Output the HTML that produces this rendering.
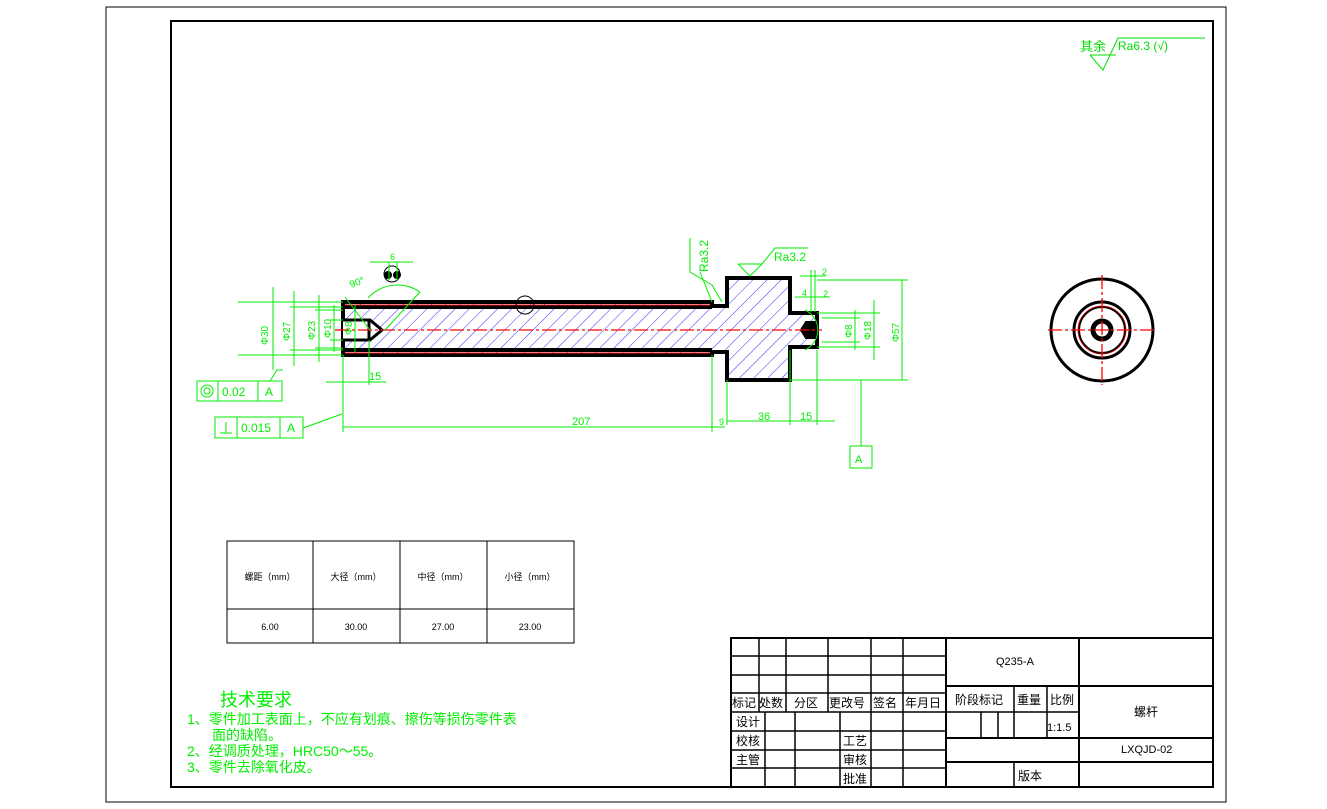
<!DOCTYPE html>
<html><head><meta charset="utf-8"><style>
html,body{margin:0;padding:0;background:#fff;}
svg{display:block;}
text{font-family:"Liberation Sans","Noto Sans CJK SC",sans-serif;}
</style></head><body>
<svg width="1327" height="809" viewBox="0 0 1327 809" xmlns="http://www.w3.org/2000/svg">
<defs>
<pattern id="h" width="10" height="10" patternUnits="userSpaceOnUse" patternTransform="rotate(45)">
<line x1="0" y1="0" x2="0" y2="10" stroke="#0000ff" stroke-width="0.8"/>
</pattern>
</defs>
<rect x="106" y="7" width="1120" height="795" fill="none" stroke="#000" stroke-width="1"/>
<rect x="171" y="21" width="1042" height="766" fill="none" stroke="#000" stroke-width="2"/>

<g fill="#00dd00" stroke="#00dd00">
<text x="1080" y="51" font-size="13" stroke="none">其余</text>
<polyline points="1090,55 1103,70 1118,38 1205,38" fill="none" stroke-width="1"/>
<line x1="1090" y1="55" x2="1116" y2="55" stroke-width="1"/>
<text x="1118" y="50" font-size="12" stroke="none" font-family="Liberation Mono">Ra6.3  (√)</text>
</g>

<path d="M343,302 L712,302 L712,306 L727,306 L727,278 L790,278 L790,313 L817,313 L817,347 L790,347 L790,380 L727,380 L727,352 L712,352 L712,355 L343,355 Z" fill="url(#h)" stroke="#000" stroke-width="4"/>
<line x1="343" y1="307" x2="712" y2="307" stroke="#000" stroke-width="4"/>
<line x1="343" y1="350" x2="712" y2="350" stroke="#000" stroke-width="4"/>
<line x1="345" y1="305" x2="710" y2="305" stroke="#ff0000" stroke-width="1"/>
<line x1="345" y1="353" x2="710" y2="353" stroke="#ff0000" stroke-width="1"/>
<path d="M343,320 L370,320 L382,330 L370,340 L343,340" fill="#fff" stroke="#000" stroke-width="3"/>
<line x1="369" y1="320" x2="369" y2="340" stroke="#000" stroke-width="3"/>
<path d="M817,322 L806,322 L801,330 L806,338 L817,338" fill="#000" stroke="#000" stroke-width="2"/>
<line x1="335" y1="330" x2="822" y2="330" stroke="#ff0000" stroke-width="1.2" stroke-dasharray="14,3,3,3"/>
<circle cx="525" cy="305" r="9" fill="none" stroke="#000" stroke-width="1"/>
<circle cx="392" cy="274" r="8" fill="none" stroke="#000" stroke-width="1"/>
<circle cx="388" cy="275" r="4" fill="#000"/><circle cx="397" cy="275" r="4" fill="#000"/>

<g stroke="#00ee00" stroke-width="1" fill="none">
<line x1="238" y1="302" x2="343" y2="302"/><line x1="238" y1="355" x2="343" y2="355"/>
<line x1="273" y1="287" x2="273" y2="370"/>
<line x1="294" y1="291" x2="294" y2="366"/><line x1="290" y1="307" x2="343" y2="307"/><line x1="290" y1="350" x2="343" y2="350"/>
<line x1="319" y1="295" x2="319" y2="362"/><line x1="315" y1="310" x2="343" y2="310"/><line x1="315" y1="348" x2="343" y2="348"/>
<line x1="334" y1="305" x2="334" y2="352"/><line x1="330" y1="320" x2="343" y2="320"/><line x1="330" y1="340" x2="343" y2="340"/>
<line x1="355" y1="305" x2="355" y2="352"/>
<line x1="369" y1="340" x2="369" y2="385"/>
<line x1="326" y1="382" x2="386" y2="382"/>
<line x1="343" y1="355" x2="343" y2="432"/>
<line x1="343" y1="427" x2="725" y2="427"/>
<line x1="712" y1="355" x2="712" y2="432"/>
<line x1="727" y1="380" x2="727" y2="425"/>
<line x1="727" y1="421" x2="835" y2="421"/>
<line x1="790" y1="350" x2="790" y2="425"/>
<line x1="817" y1="350" x2="817" y2="425"/>
<line x1="817" y1="280" x2="908" y2="280"/><line x1="790" y1="380" x2="908" y2="380"/>
<line x1="902" y1="280" x2="902" y2="380"/>
<line x1="817" y1="313" x2="880" y2="313"/><line x1="817" y1="347" x2="880" y2="347"/>
<line x1="874" y1="300" x2="874" y2="360"/>
<line x1="822" y1="318" x2="860" y2="318"/><line x1="822" y1="342" x2="860" y2="342"/>
<line x1="855" y1="310" x2="855" y2="350"/>
<line x1="800" y1="276" x2="826" y2="276"/><line x1="811" y1="270" x2="811" y2="312"/><line x1="815" y1="270" x2="815" y2="312"/>
<line x1="795" y1="297" x2="830" y2="297"/>
<line x1="861" y1="380" x2="861" y2="446"/>
<rect x="850" y="446" width="22" height="22"/>
<path d="M805,310 A22,22 0 0 1 805,350"/>
<path d="M368,298 A40,40 0 0 1 420,292"/>
<line x1="345" y1="297" x2="370" y2="330"/><line x1="420" y1="292" x2="385" y2="330"/>
<line x1="370" y1="262" x2="413" y2="262"/><line x1="389" y1="262" x2="389" y2="280"/><line x1="397" y1="262" x2="397" y2="280"/>
<polyline points="690,238 690,272 712,285 722,302"/><line x1="700" y1="272" x2="712" y2="302"/>
<polyline points="738,264 750,276 762,264 775,248 808,248"/><line x1="738" y1="264" x2="762" y2="264"/>
<rect x="197" y="381" width="85" height="20"/><line x1="218" y1="381" x2="218" y2="401"/><line x1="258" y1="381" x2="258" y2="401"/>
<circle cx="207" cy="391" r="6"/><circle cx="207" cy="391" r="3"/>
<polyline points="270,381 277,370 283,370"/>
<rect x="215" y="417" width="88" height="21"/><line x1="237" y1="417" x2="237" y2="438"/><line x1="280" y1="417" x2="280" y2="438"/>
<line x1="220" y1="433" x2="232" y2="433"/><line x1="226" y1="422" x2="226" y2="433"/>
<line x1="303" y1="428" x2="342" y2="414"/>
</g>
<g fill="#00ee00" font-size="10">
<text x="369" y="380" font-size="11">15</text>
<text x="572" y="425" font-size="11">207</text>
<text x="719" y="425" font-size="9">9</text>
<text x="758" y="420" font-size="11">36</text>
<text x="800" y="420" font-size="11">15</text>
<text x="855" y="463" font-size="11">A</text>
<text x="390" y="260" font-size="9">6</text>
<text x="351" y="288" font-size="10" transform="rotate(-20 351 288)">90°</text>
<text x="774" y="261" font-size="12">Ra3.2</text>
<text x="708" y="272" font-size="12" transform="rotate(-90 708 272)">Ra3.2</text>
<text x="822" y="275" font-size="9">2</text><text x="802" y="296" font-size="9">4</text><text x="823" y="297" font-size="9">2</text>
<text x="268" y="345" transform="rotate(-90 268 345)">Φ30</text>
<text x="290" y="341" transform="rotate(-90 290 341)">Φ27</text>
<text x="315" y="340" transform="rotate(-90 315 340)">Φ23</text>
<text x="331" y="338" transform="rotate(-90 331 338)">Φ10</text>
<text x="352" y="335" transform="rotate(-90 352 335)">Φ8</text>
<text x="899" y="342" transform="rotate(-90 899 342)">Φ57</text>
<text x="871" y="340" transform="rotate(-90 871 340)">Φ18</text>
<text x="852" y="338" transform="rotate(-90 852 338)">Φ8</text>
<text x="222" y="396" font-size="12">0.02</text>
<text x="265" y="396" font-size="12">A</text>
<text x="241" y="432" font-size="12">0.015</text>
<text x="287" y="432" font-size="12">A</text>
</g>

<g fill="none" stroke="#000">
<circle cx="1102" cy="330" r="51" stroke-width="3"/>
<circle cx="1102" cy="330" r="28" stroke-width="3"/>
<circle cx="1102" cy="330" r="23" stroke-width="2"/>
<circle cx="1102" cy="330" r="9" stroke-width="5"/>
</g>
<g stroke="#ff0000" stroke-width="1.3" stroke-dasharray="14,3,3,3">
<line x1="1048" y1="330" x2="1157" y2="330"/><line x1="1102" y1="275" x2="1102" y2="385"/>
</g>
<circle cx="1102" cy="330" r="24" fill="none" stroke="#ff0000" stroke-width="0.8"/>

<g stroke="#000" stroke-width="1" fill="none">
<rect x="227" y="541" width="347" height="102"/>
<line x1="227" y1="609" x2="574" y2="609"/>
<line x1="313" y1="541" x2="313" y2="643"/><line x1="400" y1="541" x2="400" y2="643"/><line x1="487" y1="541" x2="487" y2="643"/>
</g>
<g font-size="9" text-anchor="middle" fill="#000">
<text x="270" y="580">螺距（mm）</text><text x="356" y="580">大径（mm）</text><text x="443" y="580">中径（mm）</text><text x="530" y="580">小径（mm）</text>
<text x="270" y="630">6.00</text><text x="356" y="630">30.00</text><text x="443" y="630">27.00</text><text x="530" y="630">23.00</text>
</g>

<g fill="#00ee00">
<text x="220" y="706" font-size="18">技术要求</text>
<text x="187" y="724" font-size="14">1、零件加工表面上，不应有划痕、擦伤等损伤零件表</text>
<text x="212" y="740" font-size="14">面的缺陷。</text>
<text x="187" y="756" font-size="14">2、经调质处理，HRC50～55。</text>
<text x="187" y="772" font-size="14">3、零件去除氧化皮。</text>
</g>

<g stroke="#000" stroke-width="1.5" fill="none">
<rect x="731" y="638" width="482" height="149" stroke-width="2"/>
<line x1="731" y1="656" x2="946" y2="656"/><line x1="731" y1="675" x2="946" y2="675"/>
<line x1="731" y1="693" x2="946" y2="693"/><line x1="731" y1="712" x2="946" y2="712"/>
<line x1="731" y1="731" x2="946" y2="731"/><line x1="731" y1="750" x2="946" y2="750"/><line x1="731" y1="768" x2="946" y2="768"/>
<line x1="759" y1="638" x2="759" y2="712"/><line x1="786" y1="638" x2="786" y2="712"/><line x1="828" y1="638" x2="828" y2="712"/>
<line x1="871" y1="638" x2="871" y2="787"/><line x1="903" y1="638" x2="903" y2="787"/>
<line x1="765" y1="712" x2="765" y2="787"/><line x1="795" y1="712" x2="795" y2="787"/><line x1="840" y1="712" x2="840" y2="787"/>
<line x1="946" y1="638" x2="946" y2="787" stroke-width="2"/>
<line x1="1079" y1="638" x2="1079" y2="787" stroke-width="2"/>
<line x1="946" y1="686" x2="1213" y2="686" stroke-width="2"/>
<line x1="946" y1="712" x2="1079" y2="712"/>
<line x1="1014" y1="686" x2="1014" y2="738"/><line x1="1047" y1="686" x2="1047" y2="738"/>
<line x1="981" y1="712" x2="981" y2="738"/><line x1="998" y1="712" x2="998" y2="738"/>
<line x1="946" y1="738" x2="1213" y2="738" stroke-width="2"/>
<line x1="946" y1="762" x2="1213" y2="762" stroke-width="2"/>
<line x1="1014" y1="762" x2="1014" y2="787"/>
</g>
<g font-size="12" fill="#000">
<text x="732" y="707">标记</text><text x="759" y="707">处数</text><text x="794" y="707">分区</text><text x="829" y="707">更改号</text><text x="873" y="707">签名</text><text x="905" y="707">年月日</text>
<text x="736" y="726">设计</text><text x="736" y="745">校核</text><text x="736" y="764">主管</text>
<text x="843" y="745">工艺</text><text x="843" y="764">审核</text><text x="843" y="783">批准</text>
<text x="955" y="704">阶段标记</text><text x="1017" y="704">重量</text><text x="1050" y="704">比例</text>
<text x="1047" y="731" font-size="11">1:1.5</text>
<text x="1018" y="780">版本</text>
<text x="1134" y="716">螺杆</text>
<text x="996" y="665" font-size="11">Q235-A</text>
<text x="1121" y="753" font-size="11">LXQJD-02</text>
</g>
</svg>
</body></html>
